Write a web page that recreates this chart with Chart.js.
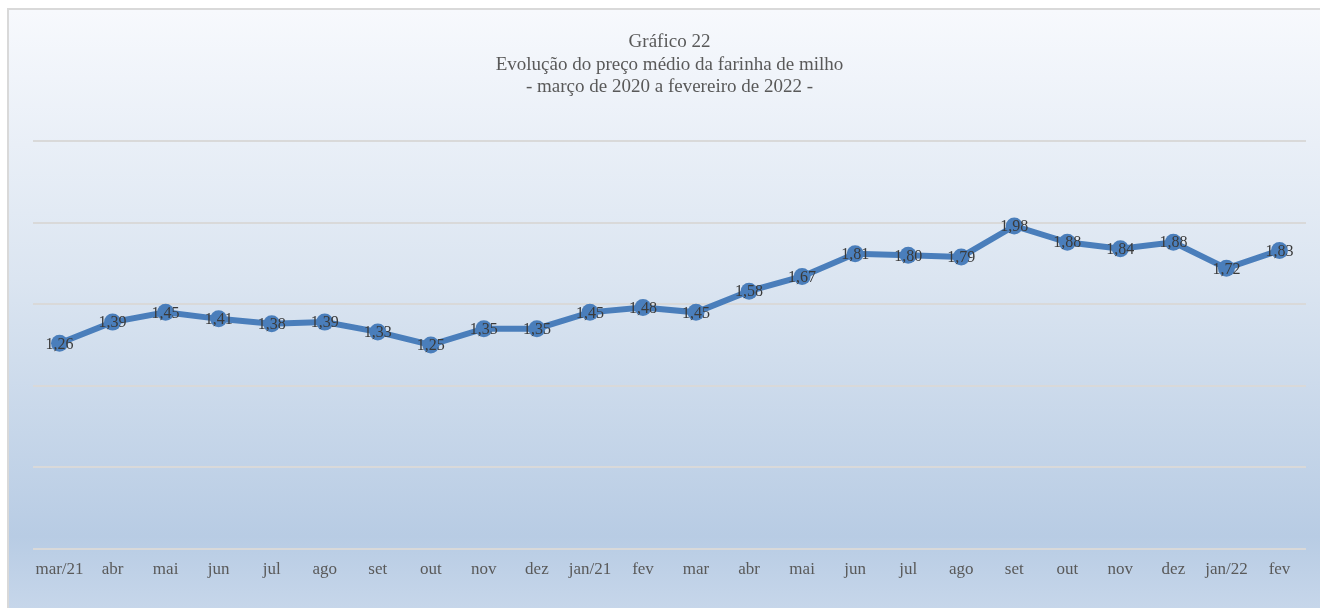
<!doctype html>
<html lang="pt">
<head>
    <meta charset="utf-8" />
    <title>Gráfico 22 - farinha de milho</title>
    <script src="https://cdn.jsdelivr.net/npm/chart.js@4.4.1/dist/chart.umd.min.js"></script>
    <style>
        html, body {
            margin: 0;
            padding: 0;
            background: #ffffff;
            overflow: hidden;
        }

        .frame {
            position: absolute;
            left: 7px;
            top: 8px;
            width: 1311px;
            height: 598px;
            border-left: 2px solid #d9d9d9;
            border-top: 2px solid #d9d9d9;
            background: linear-gradient(to bottom, #f7f9fd 0%, #dbe5f1 45%, #b8cce4 88%, #c6d6ea 100%);
        }

        canvas {
            display: block;
        }
    </style>
</head>
<body>
    <div class="frame">
        <canvas id="myChart" width="1311" height="598"></canvas>
    </div>

    <script>
        const months = ['mar/21', 'abr', 'mai', 'jun', 'jul', 'ago', 'set', 'out', 'nov', 'dez', 'jan/21', 'fev',
            'mar', 'abr', 'mai', 'jun', 'jul', 'ago', 'set', 'out', 'nov', 'dez', 'jan/22', 'fev'];
        const prices = [1.26, 1.39, 1.45, 1.41, 1.38, 1.39, 1.33, 1.25, 1.35, 1.35, 1.45, 1.48,
            1.45, 1.58, 1.67, 1.81, 1.80, 1.79, 1.98, 1.88, 1.84, 1.88, 1.72, 1.83];
        const titleLines = ['Gráfico 22', 'Evolução do preço médio da farinha de milho', '- março de 2020 a fevereiro de 2022 -'];

        const serif = '"Liberation Serif", "DejaVu Serif", serif';

        // draw the value on top of each point, comma as decimal mark
        const valueLabels = {
            id: 'valueLabels',
            afterDatasetsDraw(chart) {
                const ctx = chart.ctx;
                const meta = chart.getDatasetMeta(0);
                ctx.save();
                ctx.font = '16px ' + serif;
                ctx.fillStyle = '#3a3a3a';
                ctx.textAlign = 'center';
                ctx.textBaseline = 'middle';
                meta.data.forEach((pt, i) => {
                    ctx.fillText(prices[i].toFixed(2).replace('.', ','), pt.x, pt.y + 1);
                });
                ctx.restore();
            }
        };

        const ctx = document.getElementById('myChart').getContext('2d');
        const myChart = new Chart(ctx, {
            type: 'line',
            data: {
                labels: months,
                datasets: [{
                    data: prices,
                    borderColor: '#4a7ebb',
                    backgroundColor: '#4a7ebb',
                    borderWidth: 6,
                    pointRadius: 8.5,
                    pointBorderWidth: 0,
                    tension: 0,
                    fill: false
                }]
            },
            options: {
                responsive: false,
                animation: false,
                layout: {
                    padding: { left: 24, right: 14, top: 0, bottom: 25 }
                },
                plugins: {
                    legend: { display: false },
                    tooltip: { enabled: false },
                    title: {
                        display: true,
                        text: titleLines,
                        color: '#595959',
                        font: { family: serif, size: 19, weight: 'normal', lineHeight: 1.18 },
                        padding: { top: 21, bottom: 43 }
                    }
                },
                scales: {
                    x: {
                        offset: true,
                        grid: { display: false },
                        border: { display: false },
                        ticks: {
                            color: '#595959',
                            font: { family: serif, size: 17 },
                            padding: 3,
                            maxRotation: 0,
                            autoSkip: false
                        }
                    },
                    y: {
                        min: 0,
                        max: 2.5,
                        ticks: { display: false, stepSize: 0.5 },
                        border: { display: false },
                        grid: { color: '#d9d9d9', lineWidth: 2, drawTicks: false }
                    }
                }
            },
            plugins: [valueLabels]
        });
    </script>
</body>
</html>
